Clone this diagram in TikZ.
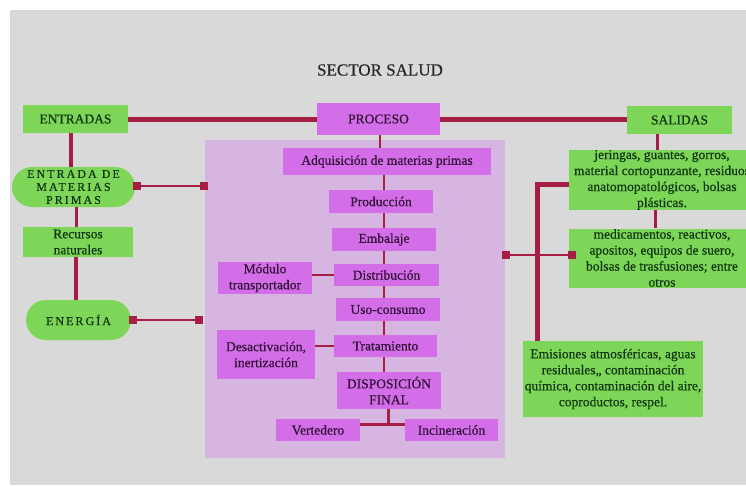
\documentclass[tikz,border=0pt]{standalone}
\usepackage{fontspec}
\setmainfont{Liberation Serif}[FakeBold=0.4]
\newfontfamily\spacedfont[LetterSpace=17,FakeBold=0.4]{Liberation Serif}
\usetikzlibrary{positioning}
\definecolor{fondogris}{RGB}{217,217,217}
\definecolor{verdecaja}{RGB}{125,214,88}
\definecolor{verdetexto}{RGB}{16,52,16}
\definecolor{moradocaja}{RGB}{211,110,232}
\definecolor{moradotexto}{RGB}{48,16,52}
\definecolor{panellila}{RGB}{214,182,224}
\definecolor{enlace}{RGB}{166,30,68}
\newcommand\cajafont{\fontsize{13.5}{16}\selectfont}

\begin{document}
\begin{tikzpicture}[x=1pt,y=-1pt,
    vd/.style={fill=verdecaja,text=verdetexto,align=center,font=\cajafont,inner sep=0pt},
    md/.style={fill=moradocaja,text=moradotexto,align=center,font=\cajafont,inner sep=0pt},
    pill/.style={vd,rounded corners=20pt,font=\spacedfont\fontsize{12}{13}\selectfont},
    sq/.style={fill=enlace,minimum size=8pt,inner sep=0pt},
    grueso/.style={draw=enlace,line width=5pt},
    medio/.style={draw=enlace,line width=3pt},
    fino/.style={draw=enlace,line width=2pt}
  ]
  \useasboundingbox (0,0) rectangle (746,485);
  \fill[fondogris] (10,10) rectangle (746,485);

  \node[font=\fontsize{17}{20}\selectfont,text=black!85] (titulo) at (380,70) {SECTOR SALUD};

  % panel del proceso
  \node[fill=panellila,minimum width=300pt,minimum height=318pt,inner sep=0pt] (panel) at (355,299) {};

  % entradas
  \node[vd,minimum width=105pt,minimum height=28pt] (entradas) at (75.5,119) {ENTRADAS};
  \node[pill,minimum width=123pt,minimum height=40pt] (emp) at (73.5,187) {ENTRADA DE\\MATERIAS\\PRIMAS};
  \node[vd,minimum width=110pt,minimum height=30pt] (recursos) at (78,242) {Recursos\\naturales};
  \node[pill,minimum width=105pt,minimum height=40pt] (energia) at (78.5,320) {ENERGÍA};

  % proceso
  \node[md,minimum width=123pt,minimum height=32pt] (proceso) at (378.5,119) {PROCESO};
  \node[md,minimum width=208pt,minimum height=27pt] (adq) at (387,161.5) {Adquisición de materias primas};
  \node[md,minimum width=104pt,minimum height=23pt] (prod) at (381,201.5) {Producción};
  \node[md,minimum width=104pt,minimum height=23pt] (emb) at (384,239.5) {Embalaje};
  \node[md,minimum width=105pt,minimum height=22pt] (dist) at (386.5,275) {Distribución};
  \node[md,minimum width=94pt,minimum height=32pt] (modulo) at (265,278) {Módulo\\transportador};
  \node[md,minimum width=104pt,minimum height=23pt] (uso) at (388,309.5) {Uso-consumo};
  \node[md,minimum width=103pt,minimum height=22pt] (trat) at (385.5,346) {Tratamiento};
  \node[md,minimum width=98pt,minimum height=49pt] (desact) at (266,354.5) {Desactivación,\\inertización};
  \node[md,minimum width=104pt,minimum height=37pt] (disp) at (389,390.5) {DISPOSICIÓN\\FINAL};
  \node[md,minimum width=84pt,minimum height=22pt] (vert) at (318,430) {Vertedero};
  \node[md,minimum width=93pt,minimum height=22pt] (incin) at (451.5,430) {Incineración};

  % salidas
  \node[vd,minimum width=105pt,minimum height=28pt] (salidas) at (679.5,120) {SALIDAS};
  \node[vd,minimum width=186pt,minimum height=60pt] (jer) at (662,180) {jeringas, guantes, gorros,\\material cortopunzante, residuos\\anatomopatológicos, bolsas\\plásticas.};
  \node[vd,minimum width=186pt,minimum height=59pt] (medic) at (662,258) {medicamentos, reactivos,\\apositos, equipos de suero,\\bolsas de trasfusiones; entre\\otros};
  \node[vd,minimum width=180pt,minimum height=76pt] (emis) at (613,379) {Emisiones atmosféricas, aguas\\residuales,, contaminación\\química, contaminación del aire,\\coproductos, respel.};

  % conectores
  \draw[grueso] (entradas.east) -- (proceso.west);
  \draw[grueso] (proceso.east) -- (salidas.west |- proceso.east);
  \draw[line width=4pt,draw=enlace] (entradas.south -| 71,0) -- (emp.north -| 71,0);
  \draw[medio] (emp.south -| 76,0) -- (recursos.north -| 76,0);
  \draw[line width=4.5pt,draw=enlace] (recursos.south -| 76,0) -- (energia.north -| 76,0);

  \coordinate (eje) at (384,0);
  \draw[fino] (proceso.south -| 380,0) -- (adq.north -| 380,0);
  \foreach \a/\b in {adq/prod,prod/emb,emb/dist,dist/uso,uso/trat,trat/disp}
    \draw[fino] (\a.south -| eje) -- (\b.north -| eje);
  \draw[fino] (modulo.east |- dist.west) -- (dist.west);
  \draw[fino] (desact.east |- trat.west) -- (trat.west);
  \coordinate (horq) at (388,424);
  \draw[medio] (disp.south -| horq) -- (horq);
  \draw[medio] (vert.east |- horq) -- (incin.west |- horq);

  \node[sq] (sqa) at (137,186) {};
  \node[sq] (sqb) at (204,186) {};
  \node[sq] (sqc) at (133,320) {};
  \node[sq] (sqd) at (199,320) {};
  \node[sq] (sqe) at (505.5,255) {};
  \node[sq] (sqf) at (572,255) {};
  \draw[fino] (sqa) -- (sqb);
  \draw[fino] (sqc) -- (sqd);
  \draw[fino] (sqe) -- (sqf);

  \draw[medio] (salidas.south -| 657,0) -- (jer.north -| 657,0);
  \draw[medio] (jer.south -| 655,0) -- (medic.north -| 655,0);
  \coordinate (codo) at (537,184);
  \draw[grueso] (jer.west |- codo) -- (codo) -- (emis.north -| codo);
\end{tikzpicture}
\end{document}
